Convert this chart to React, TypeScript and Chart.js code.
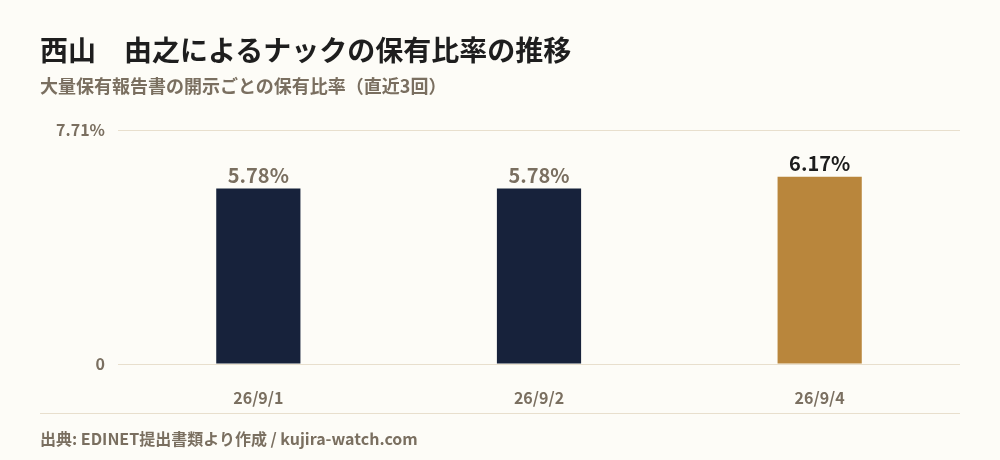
import { useEffect, useRef } from 'react';
import Chart from 'chart.js/auto';

const dates = ['26/9/1', '26/9/2', '26/9/4'];
const ratios = [5.78, 5.78, 6.17];
const yTicks = [0, 7.71];
const barColors = ['#17223b', '#17223b', '#b9863c'];
const labelColors = ['#7a6f60', '#7a6f60', '#1c1c1c'];

const FONT = '"Noto Sans CJK JP", "Noto Sans", sans-serif';
const GREY = '#7a6f60';
const LINE = '#e8dfcd';

export default function App() {
  const chartRef = useRef<HTMLCanvasElement>(null);
  const chartInstance = useRef<Chart | null>(null);

  useEffect(() => {
    document.body.style.margin = '0';
    if (chartInstance.current) {
      chartInstance.current.destroy();
    }
    const ctx = chartRef.current?.getContext('2d');
    if (!ctx) return;

    // values above each bar
    const valueLabels = {
      id: 'valueLabels',
      afterDatasetsDraw(chart: any) {
        const c = chart.ctx;
        const meta = chart.getDatasetMeta(0);
        c.save();
        c.font = `bold 20px ${FONT}`;
        c.textAlign = 'center';
        c.textBaseline = 'bottom';
        meta.data.forEach((bar: any, i: number) => {
          c.fillStyle = labelColors[i];
          c.fillText(ratios[i].toFixed(2) + '%', bar.x, bar.y - 3);
        });
        c.restore();
      },
    };

    chartInstance.current = new Chart(ctx, {
      type: 'bar',
      data: {
        labels: dates,
        datasets: [{
          data: ratios,
          backgroundColor: barColors,
          borderWidth: 0,
          barPercentage: 0.3,
          categoryPercentage: 1,
        }],
      },
      options: {
        animation: false,
        responsive: false,
        layout: { padding: { top: 130, right: 40, bottom: 46, left: 0 } },
        plugins: {
          legend: { display: false },
          tooltip: { enabled: false },
        },
        scales: {
          x: {
            grid: { display: false },
            border: { display: false },
            afterFit: (s: any) => { s.height = 50; },
            ticks: {
              color: GREY,
              padding: 16,
              font: { family: FONT, size: 16, weight: 'bold' },
            },
          },
          y: {
            min: 0,
            max: yTicks[yTicks.length - 1],
            afterFit: (s: any) => { s.width = 118; },
            afterBuildTicks: (s: any) => {
              s.ticks = yTicks.map((v) => ({ value: v }));
            },
            grid: { color: LINE, lineWidth: 1, drawTicks: false },
            border: { display: false },
            ticks: {
              color: GREY,
              padding: 13,
              font: { family: FONT, size: 16, weight: 'bold' },
              callback: (v: any) => (v === 0 ? '0' : Number(v).toFixed(2) + '%'),
            },
          },
        },
      },
      plugins: [valueLabels],
    });

    return () => {
      if (chartInstance.current) {
        chartInstance.current.destroy();
        chartInstance.current = null;
      }
    };
  }, []);

  return (
    <div style={{ position: 'relative', width: 1000, height: 460, background: '#fdfcf7', fontFamily: FONT, overflow: 'hidden' }}>
      <canvas ref={chartRef} width={1000} height={460} style={{ position: 'absolute', left: 0, top: 0 }}></canvas>
      <div style={{ position: 'absolute', left: 40, top: 30, fontSize: 28, fontWeight: 700, color: '#1e1e1e', lineHeight: '38px', whiteSpace: 'nowrap' }}>
        西山　由之によるナックの保有比率の推移
      </div>
      <div style={{ position: 'absolute', left: 40, top: 72, fontSize: 18, fontWeight: 700, color: GREY, lineHeight: '26px', whiteSpace: 'nowrap' }}>
        大量保有報告書の開示ごとの保有比率（直近3回）
      </div>
      <div style={{ position: 'absolute', left: 40, top: 413, width: 920, height: 1, background: LINE }}></div>
      <div style={{ position: 'absolute', left: 40, top: 426, fontSize: 16, fontWeight: 700, color: GREY, lineHeight: '24px', whiteSpace: 'nowrap' }}>
        出典: EDINET提出書類より作成 / kujira-watch.com
      </div>
    </div>
  );
}
